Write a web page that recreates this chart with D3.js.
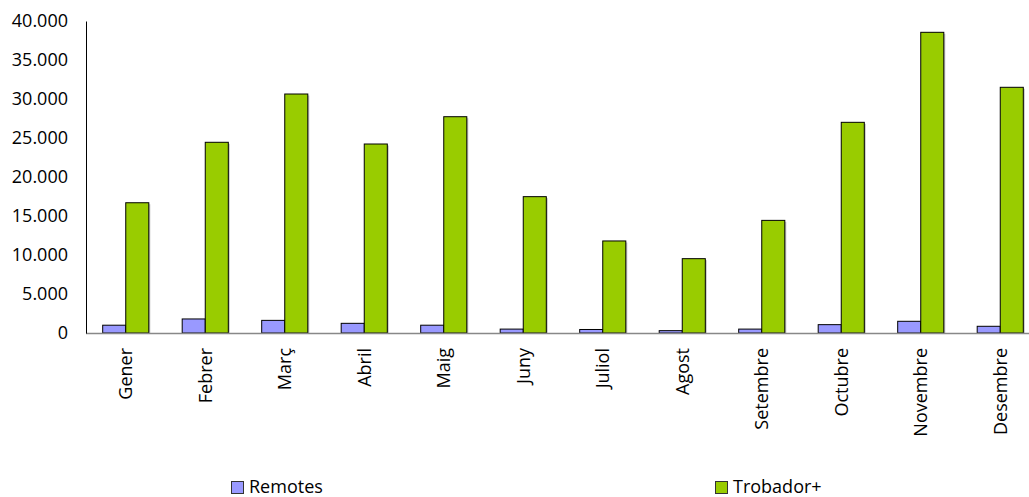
<!DOCTYPE html>
<html><head><meta charset="utf-8">
<script src="https://cdn.jsdelivr.net/npm/d3@7"></script>
<style>body{margin:0;background:#fff}svg{display:block;font-family:"Open Sans",sans-serif}</style>
</head><body>
<svg id="c" width="1029" height="497"></svg>
<script>
const months = ["Gener","Febrer","Març","Abril","Maig","Juny","Juliol","Agost","Setembre","Octubre","Novembre","Desembre"];
const remotes = [1000,1800,1620,1240,1000,500,450,300,500,1070,1500,860];
const trobador = [16700,24450,30640,24230,27730,17480,11800,9530,14440,27010,38550,31500];
const yTicks = [0,5000,10000,15000,20000,25000,30000,35000,40000];
const seriesNames = ["Remotes","Trobador+"];
const colors = ["#9999FF","#99CC00"];

const svg = d3.select("#c");
const x0 = 86, x1 = 1040, yTop = 21, yBot = 333;
const x = d3.scaleBand().domain(months).range([x0, x1]).paddingInner(0.42).paddingOuter(0.21);
const xs = d3.scaleBand().domain(seriesNames).range([0, x.bandwidth()]);
const y = d3.scaleLinear().domain([0, 40000]).range([yBot, yTop]);
const fmt = v => d3.format(",")(v).replace(/,/g, ".");
const FS = "18px";

const data = months.map((m,i)=>({m, vals:[remotes[i], trobador[i]]}));
const g = svg.append("g");
data.forEach(d=>{
  d.vals.forEach((v,k)=>{
    const bx = x(d.m)+xs(seriesNames[k]);
    g.append("rect").attr("x", bx+1.5).attr("y", y(v)+1.5).attr("width", xs.bandwidth()).attr("height", yBot-y(v)-1.5)
      .attr("fill","#a0a0a0").attr("opacity",0.6);
    g.append("rect").attr("x", bx).attr("y", y(v)).attr("width", xs.bandwidth()).attr("height", yBot-y(v))
      .attr("fill", colors[k]).attr("stroke","#000").attr("stroke-width",1);
  });
});

svg.append("line").attr("x1",x0).attr("x2",1029).attr("y1",yBot+0.5).attr("y2",yBot+0.5).attr("stroke","#888").attr("stroke-width",1.5);
const ya = d3.axisLeft(y).tickValues(yTicks).tickFormat(fmt).tickSize(0).tickPadding(18);
const yg = svg.append("g").attr("transform",`translate(${x0},0)`).call(ya);
yg.select(".domain").attr("stroke","#000").attr("stroke-width",1);
yg.selectAll("text").attr("font-size",FS).attr("fill","#000").attr("font-family","Open Sans");

const xa = d3.axisBottom(x).tickSize(0).tickPadding(0);
const xg = svg.append("g").attr("transform",`translate(0,${yBot})`).call(xa);
xg.select(".domain").remove();
xg.selectAll("text").attr("font-size",FS).attr("fill","#000").attr("font-family","Open Sans")
  .attr("text-anchor","end").attr("y",0)
  .attr("transform", `translate(0,15) rotate(-90)`).attr("dx",0).attr("dy","0.35em");

const legX = [231, 715];
seriesNames.forEach((s,k)=>{
  svg.append("rect").attr("x",legX[k]+0.5).attr("y",481.5).attr("width",12).attr("height",12)
    .attr("fill",colors[k]).attr("stroke","#333").attr("stroke-width",1);
  svg.append("text").attr("x",legX[k]+18).attr("y",493).attr("font-size",FS).attr("fill","#000").text(s);
});
</script>
</body></html>
